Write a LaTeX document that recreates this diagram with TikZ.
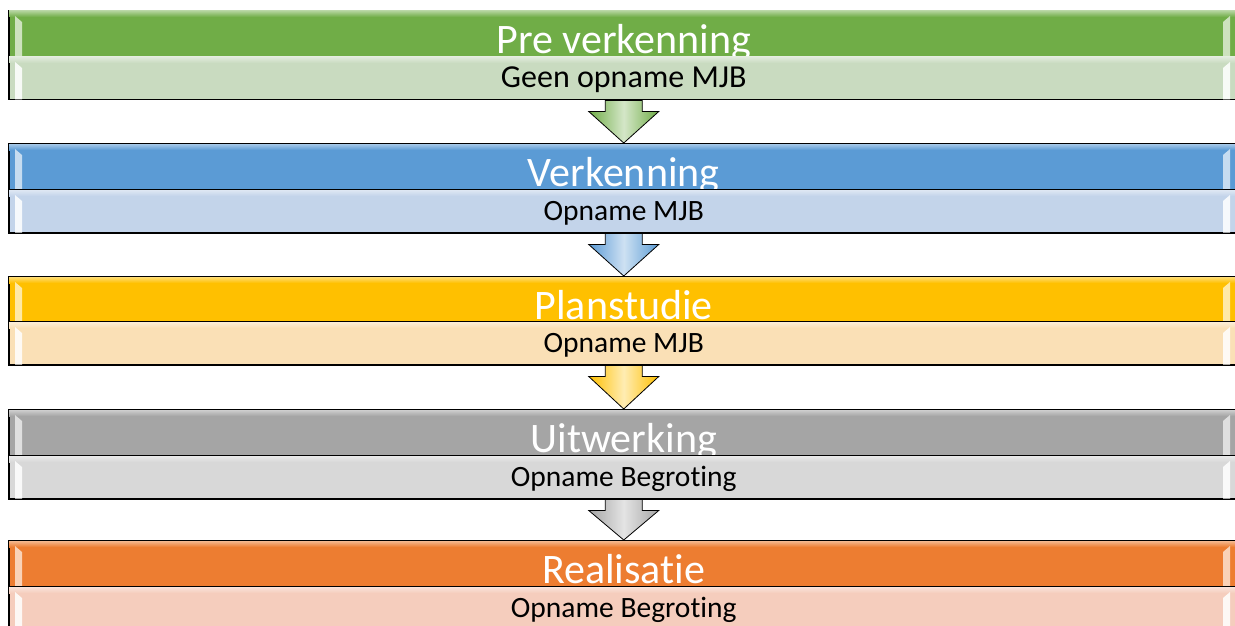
\documentclass[tikz,border=0pt]{standalone}
\usepackage{fontspec}
\setmainfont{Carlito}[Ligatures=NoCommon]
\usetikzlibrary{calc,backgrounds}

\definecolor{groenA}{HTML}{70AD47}
\definecolor{groenB}{HTML}{C9DBC0}
\definecolor{blauwA}{HTML}{5B9BD5}
\definecolor{blauwB}{HTML}{C3D4EA}
\definecolor{geelA}{HTML}{FFC000}
\definecolor{geelB}{HTML}{FAE0B6}
\definecolor{grijsA}{HTML}{A5A5A5}
\definecolor{grijsB}{HTML}{D8D8D8}
\definecolor{oranjeA}{HTML}{ED7D31}
\definecolor{oranjeB}{HTML}{F5CDBD}

% blokpijl tussen twee fases
\newcommand{\fasepijl}[3]{%
  \path[draw=black,line width=.8pt,line join=miter,
        left color=#3,right color=#3,middle color=#3!30!white]
    ($(#1.south)+(-18.5,0)$) -- ($(#1.south)+(-18.5,11)$)
    -- ($(#1.south)+(-35,11)$) -- (#2.north)
    -- ($(#1.south)+(35,11)$) -- ($(#1.south)+(18.5,11)$)
    -- ($(#1.south)+(18.5,0)$) -- cycle;}
% glanslijnen aan de randen van een balk
\newcommand{\glans}[3]{%
  \shade[top color=#2!55!white,bottom color=#2]
    ($(#1.north west)+(1,1)$) rectangle ($(#1.north west)+(1228,7)$);
  \fill[#3] ($(#1.north west)+(7,6)$) -- ($(#1.north west)+(14,12)$)
    -- ($(#1.south west)+(14,-1)$) -- ($(#1.south west)+(7,-1)$) -- cycle;
  \fill[#3] ($(#1.north west)+(1222,6)$) -- ($(#1.north west)+(1215,12)$)
    -- ($(#1.south west)+(1215,-1)$) -- ($(#1.south west)+(1222,-1)$) -- cycle;}

\begin{document}
\begin{tikzpicture}[x=1pt,y=-1pt,
  fase/.style={draw=black,line width=1.5pt,rectangle,anchor=north west,
    minimum width=1230pt,minimum height=46pt,inner sep=0pt,
    text=white,font=\fontsize{42}{44}\selectfont,
    text height=40pt,text depth=0pt},
  opname/.style={draw=black,line width=1.5pt,rectangle,anchor=north west,
    minimum width=1230pt,minimum height=43pt,inner sep=0pt,
    text=black,font=\fontsize{29.5}{32}\selectfont,
    text height=19pt,text depth=0pt}]
\useasboundingbox (0,0) rectangle (1235,626);
%%
\node (pre) at (8,10) [fase,fill=groenA] {Pre verkenning};
\glans{pre}{groenA}{groenA!35!white}
\node (preSub) at (8,56) [opname,fill=groenB,font=\fontsize{32}{34}\selectfont] {Geen opname MJB};
\glans{preSub}{groenB}{white!85!groenB}

\node (verk) at (8,143) [fase,fill=blauwA] {Verkenning};
\glans{verk}{blauwA}{blauwA!35!white}
\node (verkSub) at (8,189) [opname,fill=blauwB] {Opname MJB};
\glans{verkSub}{blauwB}{white!85!blauwB}

\node (plan) at (8,276) [fase,fill=geelA] {Planstudie};
\glans{plan}{geelA}{geelA!35!white}
\node (planSub) at (8,321) [opname,fill=geelB] {Opname MJB};
\glans{planSub}{geelB}{white!85!geelB}

\node (uitw) at (8,409) [fase,fill=grijsA] {Uitwerking};
\glans{uitw}{grijsA}{grijsA!35!white}
\node (uitwSub) at (8,455) [opname,fill=grijsB] {Opname Begroting};
\glans{uitwSub}{grijsB}{white!85!grijsB}

\node (real) at (8,540) [fase,fill=oranjeA] {Realisatie};
\glans{real}{oranjeA}{oranjeA!35!white}
\node (realSub) at (8,586) [opname,fill=oranjeB] {Opname Begroting};
\glans{realSub}{oranjeB}{white!85!oranjeB}
%
\begin{pgfonlayer}{background}
\fasepijl{preSub}{verk}{groenA}
\fasepijl{verkSub}{plan}{blauwA}
\fasepijl{planSub}{uitw}{geelA}
\fasepijl{uitwSub}{real}{grijsA}
\end{pgfonlayer}
%
\end{tikzpicture}
\end{document}
